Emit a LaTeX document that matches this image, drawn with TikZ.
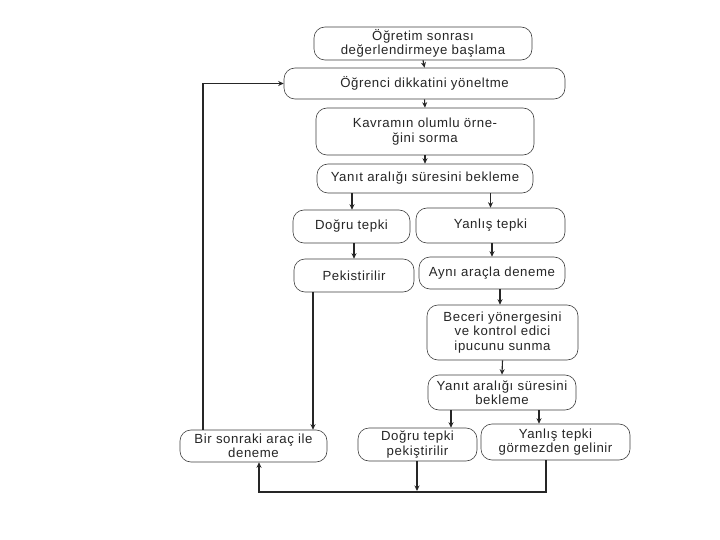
\documentclass[tikz,border=0pt]{standalone}
\usepackage{fontspec}
\setmainfont{Liberation Sans}[LetterSpace=4.5]
\usetikzlibrary{arrows.meta}
\begin{document}
\begin{tikzpicture}[x=1pt,y=-1pt,
  box/.style={draw=black!75, line width=0.6pt, rounded corners=11pt, inner sep=0pt, align=center,
    font=\fontsize{13.2}{14.5}\selectfont, text=black!85},
  arr/.style={draw=black!85, line width=1.1pt, -{Stealth[length=5.5pt,width=5pt]}},
  ln/.style={draw=black!85, line width=1.1pt}]
\fill[white] (0,0) rectangle (720,540);
\useasboundingbox (0,0) rectangle (720,540);
\node[box, minimum width=218pt, minimum height=33pt] (b1) at (423,43.5) {Öğretim sonrası\\değerlendirmeye başlama};
\node[box, minimum width=281pt, minimum height=31pt] (b2) at (424.5,83.5) {Öğrenci dikkatini yöneltme};
\node[box, minimum width=218pt, minimum height=47pt] (b3) at (425,131.5) {Kavramın olumlu örne-\\ğini sorma};
\node[box, minimum width=216pt, minimum height=29pt] (b4) at (425,178.5) {Yanıt aralığı süresini bekleme};
\node[box, minimum width=117pt, minimum height=33pt] (b5) at (351.5,226.5) {Doğru tepki};
\node[box, minimum width=149pt, minimum height=35pt] (b6) at (490.5,225.5) {Yanlış tepki};
\node[box, minimum width=120pt, minimum height=33pt] (b7) at (354,275.5) {Pekistirilir};
\node[box, minimum width=146pt, minimum height=32pt] (b8) at (492,273) {Aynı araçla deneme};
\node[box, minimum width=151pt, minimum height=55pt] (b9) at (502.5,332.5) {Beceri yönergesini\\ve kontrol edici\\ipucunu sunma};
\node[box, minimum width=148pt, minimum height=35pt] (b10) at (502,392.5) {Yanıt aralığı süresini\\bekleme};
\node[box, minimum width=147pt, minimum height=32pt] (b11) at (253.5,446) {Bir sonraki araç ile\\deneme};
\node[box, minimum width=119pt, minimum height=33pt] (b12) at (417.5,444.5) {Doğru tepki\\pekiştirilir};
\node[box, minimum width=149pt, minimum height=36pt] (b13) at (555.5,442) {Yanlış tepki\\görmezden gelinir};
\coordinate (x203) at (203,0);
\coordinate (x313) at (313,0);
\coordinate (x352) at (352,0);
\coordinate (x451) at (451,0);
\coordinate (x539) at (539,0);
\coordinate (x546) at (546,0);
\coordinate (x500) at (500,0);
\coordinate (bot) at (259,492);
\coordinate (mid) at (417,491);
\draw[arr] (b1.south) -- (b2.north);
\draw[arr] (b2.south) -- (b3.north);
\draw[arr] (b3.south) -- (b4.north);
\draw[arr] (b4.south -| x352) -- (b5.north -| x352);
\draw[arr] (b4.south -| b6.north) -- (b6.north);
\draw[arr] (b5.south -| b7.north) -- (b7.north);
\draw[arr] (b6.south -| b8.north) -- (b8.north);
\draw[arr] (b8.south -| x500) -- (b9.north -| x500);
\draw[arr] (b9.south) -- (b10.north);
\draw[arr] (b10.south -| x451) -- (b12.north -| x451);
\draw[arr] (b10.south -| x539) -- (b13.north -| x539);
\draw[arr] (b7.south -| x313) -- (b11.north -| x313);
\draw[arr] (b11.north -| x203) |- (b2.west);
\draw[arr] (b12.south -| mid) -- (mid);
\draw[arr] (b13.south -| x546) |- (bot) -- (b11.south -| bot);
\end{tikzpicture}
\end{document}
